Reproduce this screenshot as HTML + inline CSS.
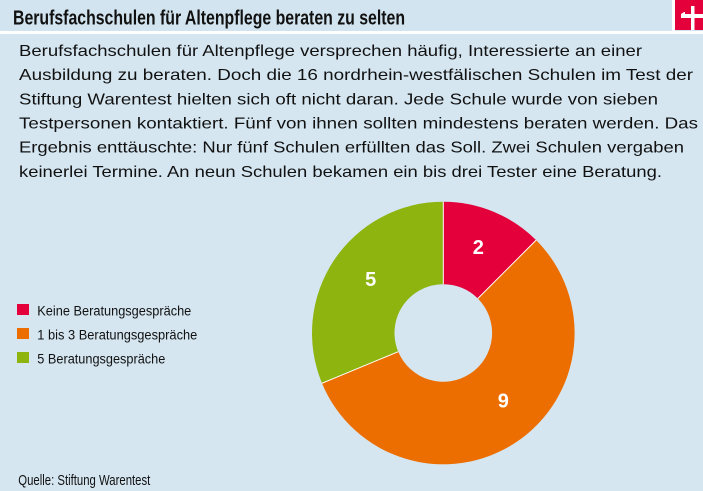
<!DOCTYPE html>
<html><head><meta charset="utf-8"><style>
html,body{margin:0;padding:0;background:#d5e6f1;}
svg{display:block;}
</style></head><body>
<svg width="703" height="491" viewBox="0 0 703 491" xmlns="http://www.w3.org/2000/svg">
<rect x="0" y="0" width="703" height="491" fill="#d5e6f1"/>
<rect x="0" y="0" width="703" height="31" fill="#d2e4ef"/>
<rect x="0" y="31" width="703" height="3" fill="#ffffff"/>
<rect x="672" y="0" width="3" height="31" fill="#ffffff"/>
<rect x="675" y="0" width="28" height="30" fill="#e3003b"/>
<rect x="691" y="6" width="3.5" height="24" fill="#ffffff"/>
<rect x="681" y="14" width="22" height="4" fill="#ffffff"/>
<polygon points="681,14 684,12 685,12 685,14" fill="#ffffff"/>
<text x="13" y="24.5" font-family="'Liberation Sans Narrow','Liberation Sans',sans-serif" font-weight="bold" font-size="20.5" fill="#111111" textLength="392" lengthAdjust="spacingAndGlyphs">Berufsfachschulen für Altenpflege beraten zu selten</text>
<g font-family="'Liberation Sans',sans-serif" font-size="15.6" fill="#111111">
<text x="19" y="56" textLength="623" lengthAdjust="spacingAndGlyphs">Berufsfachschulen für Altenpflege versprechen häufig, Interessierte an einer</text>
<text x="19" y="80.2" textLength="674" lengthAdjust="spacingAndGlyphs">Ausbildung zu beraten. Doch die 16 nordrhein-westfälischen Schulen im Test der</text>
<text x="19" y="104.3" textLength="639" lengthAdjust="spacingAndGlyphs">Stiftung Warentest hielten sich oft nicht daran. Jede Schule wurde von sieben</text>
<text x="19" y="128.5" textLength="679" lengthAdjust="spacingAndGlyphs">Testpersonen kontaktiert. Fünf von ihnen sollten mindestens beraten werden. Das</text>
<text x="19" y="152.6" textLength="665" lengthAdjust="spacingAndGlyphs">Ergebnis enttäuschte: Nur fünf Schulen erfüllten das Soll. Zwei Schulen vergaben</text>
<text x="19" y="176.8" textLength="643" lengthAdjust="spacingAndGlyphs">keinerlei Termine. An neun Schulen bekamen ein bis drei Tester eine Beratung.</text>
</g>
<rect x="17" y="304" width="12" height="11" fill="#e3003b"/>
<rect x="17" y="328" width="12" height="11" fill="#ec6e00"/>
<rect x="17" y="352" width="12" height="11" fill="#8db40f"/>
<g font-family="'Liberation Sans',sans-serif" font-size="13.5" fill="#111111">
<text x="37.3" y="315.3" textLength="154" lengthAdjust="spacingAndGlyphs">Keine Beratungsgespräche</text>
<text x="37.3" y="339.3" textLength="160" lengthAdjust="spacingAndGlyphs">1 bis 3 Beratungsgespräche</text>
<text x="37.3" y="363.3" textLength="128" lengthAdjust="spacingAndGlyphs">5 Beratungsgespräche</text>
</g>
<path d="M443.3,201.7 A131.3,131.3 0 0 1 536.14,240.16 L477.81,298.49 A48.8,48.8 0 0 0 443.3,284.2 Z" fill="#e3003b"/>
<path d="M536.14,240.16 A131.3,131.3 0 1 1 321.99,383.25 L398.21,351.67 A48.8,48.8 0 1 0 477.81,298.49 Z" fill="#ec6e00"/>
<path d="M321.99,383.25 A131.3,131.3 0 0 1 443.3,201.7 L443.3,284.2 A48.8,48.8 0 0 0 398.21,351.67 Z" fill="#8db40f"/>
<g stroke="#ffffff" stroke-width="1">
<line x1="443.3" y1="201.7" x2="443.3" y2="284.2"/>
<line x1="536.14" y1="240.16" x2="477.81" y2="298.49"/>
<line x1="321.99" y1="383.25" x2="398.21" y2="351.67"/>
</g>
<g font-family="'Liberation Sans',sans-serif" font-weight="bold" font-size="20" fill="#ffffff" text-anchor="middle">
<text x="478.3" y="254">2</text>
<text x="370.7" y="286">5</text>
<text x="503.3" y="407.3">9</text>
</g>
<text x="18.3" y="485" font-family="'Liberation Sans Narrow','Liberation Sans',sans-serif" font-size="14.5" fill="#111111" textLength="132" lengthAdjust="spacingAndGlyphs">Quelle: Stiftung Warentest</text>
</svg>
</body></html>
